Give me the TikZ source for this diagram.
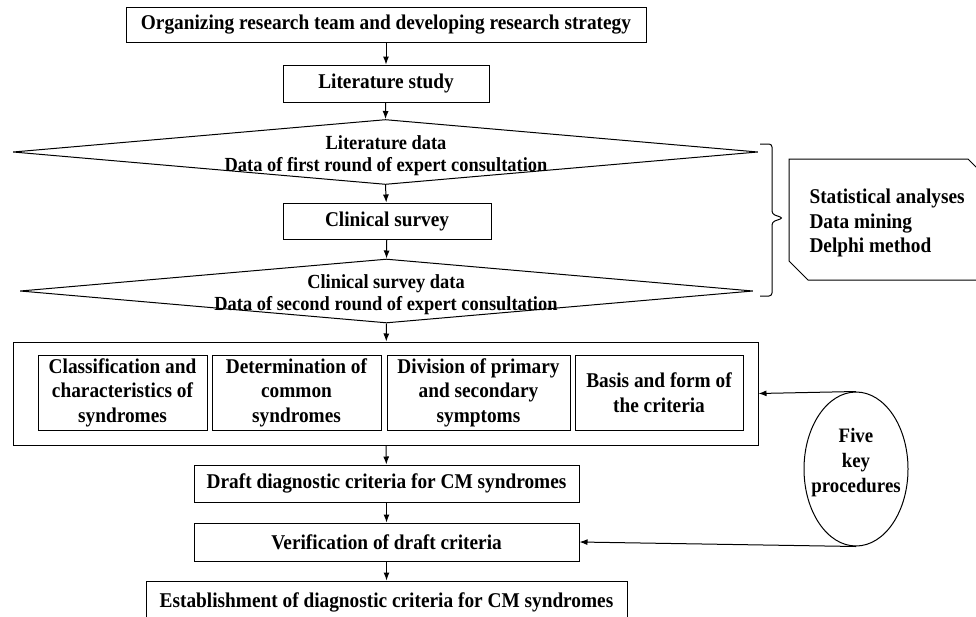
\documentclass[tikz,border=0pt]{standalone}
\usepackage{fontspec}
\setmainfont[FakeStretch=0.92]{Liberation Serif}
\usetikzlibrary{arrows.meta,shapes.geometric}
\begin{document}
\begin{tikzpicture}[x=1pt,y=-1pt,
  every node/.style={font=\fontsize{21}{24.5}\selectfont\bfseries},
  box/.style={draw,line width=1pt,inner sep=0pt,align=center},
  dia/.style={draw,line width=1pt,shape=diamond,inner sep=0pt},
  arr/.style={line width=1pt,-{Latex[length=8pt,width=6pt]}},
  ln/.style={line width=1pt}]
\useasboundingbox (0,0) rectangle (976,616);
% main column
\node[box,minimum width=520pt,minimum height=35pt] (org) at (386,24.5)
  {Organizing research team and developing research strategy};
\node[box,minimum width=206pt,minimum height=37pt] (lit) at (386,83.5) {Literature study};
\node[dia,minimum width=745pt,minimum height=65pt] (d1) at (385.5,152) {};
\node[align=center,font=\fontsize{20}{22}\selectfont\bfseries] (d1t) at (386,156)
  {Literature data\\Data of first round of expert consultation};
\node[box,minimum width=208pt,minimum height=36pt] (cli) at (387,221) {Clinical survey};
\node[dia,minimum width=733pt,minimum height=64pt] (d2) at (386.5,291) {};
\node[align=center,font=\fontsize{20}{22}\selectfont\bfseries] (d2t) at (386,295)
  {Clinical survey data\\Data of second round of expert consultation};
\node[box,minimum width=745pt,minimum height=103pt] (big) at (385.5,393.5) {};
\node[box,minimum width=169pt,minimum height=75pt] (b1) at (122.5,392.5)
  {Classification and\\characteristics of\\syndromes};
\node[box,minimum width=169pt,minimum height=75pt] (b2) at (296.5,392.5)
  {Determination of\\common\\syndromes};
\node[box,minimum width=183pt,minimum height=75pt] (b3) at (478.5,392.5)
  {Division of primary\\and secondary\\symptoms};
\node[box,minimum width=168pt,minimum height=75pt] (b4) at (659,392.5)
  {Basis and form of\\the criteria};
\node[box,minimum width=385pt,minimum height=37pt] (dra) at (386.5,483.5)
  {Draft diagnostic criteria for CM syndromes};
\node[box,minimum width=385pt,minimum height=38pt] (ver) at (386.5,542)
  {Verification of draft criteria};
\node[box,minimum width=481pt,minimum height=42pt] (est) at (386.5,602)
  {Establishment of diagnostic criteria for CM syndromes};
% arrows
\draw[arr] (org) -- (lit);
\draw[arr] (lit) -- (d1.north);
\draw[arr] (d1.south) -- (cli);
\draw[arr] (cli) -- (d2.north);
\draw[arr] (d2.south) -- (big);
\draw[arr] (big) -- (dra);
\draw[arr] (dra) -- (ver);
\draw[arr] (ver) -- (est.north);
% ellipse
\node[draw,line width=1pt,ellipse,minimum width=104pt,minimum height=154pt,inner sep=0pt] (ell) at (856,469) {};
\node[align=center,font=\fontsize{20.5}{25}\selectfont\bfseries] (ellt) at (856,463) {Five\\key\\procedures};
\draw[arr] (ell.north) -- (big.east);
\draw[arr] (ell.south) -- (ver.east);
% brace
\draw[ln,rounded corners=3pt] (760,144) -- (772,144) -- (772,214) -- (783,218) -- (772,222) -- (772,296) -- (760,296);
% callout
\draw[ln] (789,159) -- (968,159) -- (990,181) -- (990,280) -- (808,280) -- (789,261) -- cycle;
\node[align=left,anchor=west] (stat) at (806,223)
  {Statistical analyses\\Data mining\\Delphi method};
\end{tikzpicture}
\end{document}
